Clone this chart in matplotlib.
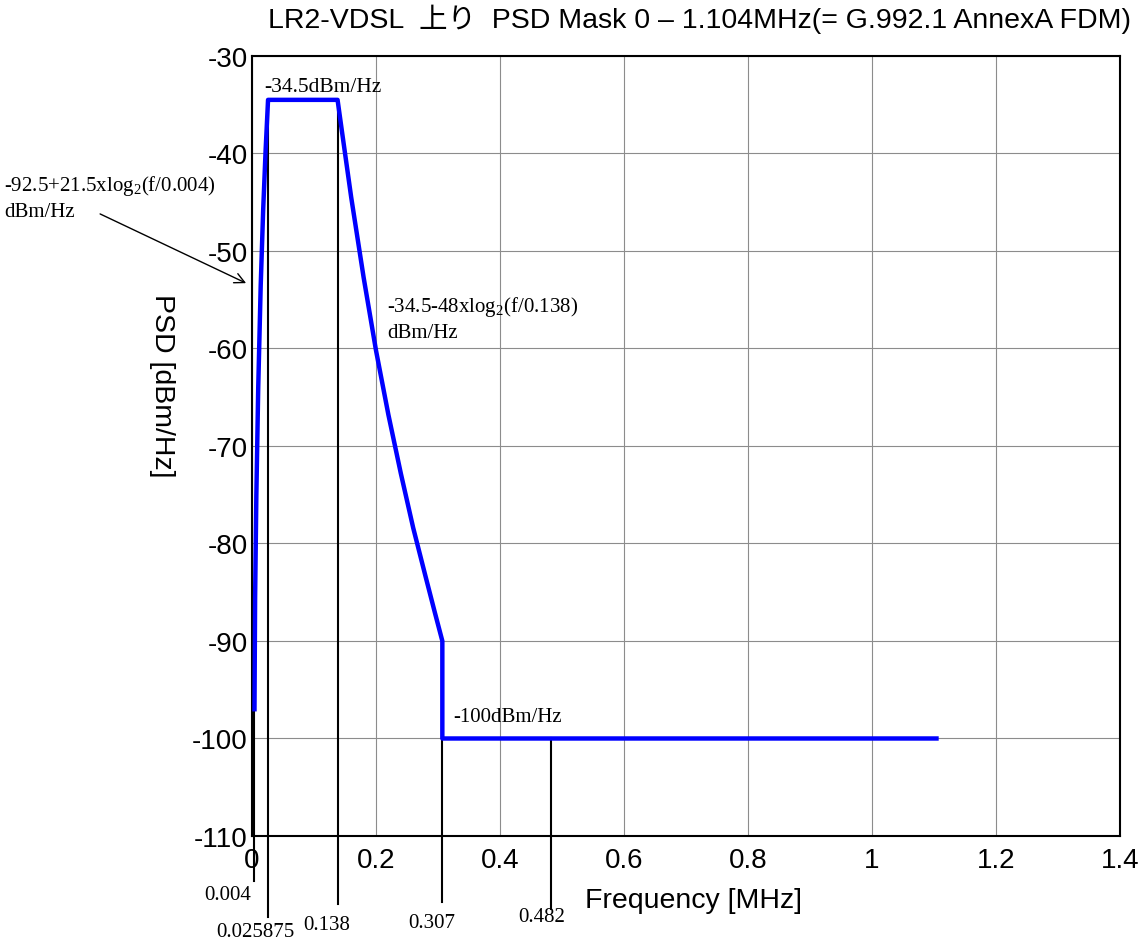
import matplotlib.pyplot as plt

plt.rcParams['font.family'] = ['Liberation Sans', 'Noto Sans CJK JP', 'DejaVu Sans']
plt.rcParams['mathtext.fontset'] = 'custom'
plt.rcParams['mathtext.rm'] = 'Liberation Serif'
plt.rcParams['axes.unicode_minus'] = False

# PSD mask (MHz, dBm/Hz)
rise_f = [0.004, 0.005, 0.007, 0.010, 0.014, 0.018, 0.022, 0.025875]
rise_psd = [-97.0, -85.6, -75.1, -64.1, -53.6, -45.8, -39.6, -34.5]
flat_f = [0.025875, 0.138]
flat_psd = [-34.5, -34.5]
fall_f = [0.138, 0.145, 0.16, 0.18, 0.20, 0.22, 0.24, 0.26, 0.28, 0.295, 0.307]
fall_psd = [-34.5, -37.7, -44.5, -52.7, -60.2, -66.8, -72.8, -78.4, -83.4, -87.1, -90.0]
tail_f = [0.307, 0.307, 1.104]
tail_psd = [-90.0, -100.0, -100.0]

# marker frequencies with their label text and vertical line ranges
mark_f = [0.004, 0.025875, 0.138, 0.307, 0.482]
mark_top = [-97.0, -34.5, -34.5, -100.0, -100.0]
mark_bot = [-114.6, -118.3, -117.0, -116.8, -117.5]
mark_lbl = ['0.004', '0.025875', '0.138', '0.307', '0.482']
# label centres in data units (x MHz, y dB)
lbl_x = [-0.04, 0.006, 0.121, 0.29, 0.467]
lbl_y = [-116.0, -119.8, -119.1, -118.9, -118.3]

serif = 'Liberation Serif'

fig = plt.figure(figsize=(11.46, 9.45), dpi=100)
ax = fig.add_axes([0.2199, 0.1143, 0.7574, 0.8254])

f_all = rise_f + flat_f[1:] + fall_f[1:] + tail_f[1:]
p_all = rise_psd + flat_psd[1:] + fall_psd[1:] + tail_psd[1:]

for f, top, bot in zip(mark_f, mark_top, mark_bot):
    ax.plot([f, f], [top, bot], color='black', lw=1.5, clip_on=False, zorder=3)

ax.plot(f_all, p_all, color='#0000ff', lw=3.2, zorder=4)

ax.set_xlim(0, 1.4)
ax.set_ylim(-110, -30)
ax.set_xticks([0, 0.2, 0.4, 0.6, 0.8, 1.0, 1.2, 1.4])
ax.set_xticklabels(['0', '0.2', '0.4', '0.6', '0.8', '1', '1.2', '1.4'])
ax.set_yticks(range(-110, -29, 10))
ax.tick_params(labelsize=20, length=0)
ax.tick_params(axis='x', pad=8)
ax.tick_params(axis='y', pad=3)
ax.grid(True, color='#8c8c8c', lw=0.8)
for s in ax.spines.values():
    s.set_linewidth(1.5)

ax.set_xlabel('Frequency [MHz]', fontsize=20.5, labelpad=10)
ax.xaxis.label.set_x(0.509)
fig.text(0.141, 0.592, 'PSD [dBm/Hz]', rotation=-90, fontsize=20.5,
         ha='center', va='center')
ax.set_title('LR2-VDSL  上り  PSD Mask 0 – 1.104MHz(= G.992.1 AnnexA FDM)',
             fontsize=20.5, pad=21, x=0.515)

for x, y, t in zip(lbl_x, lbl_y, mark_lbl):
    ax.text(x, y, t, fontsize=15, family=serif, ha='center', va='center',
            clip_on=False)

ax.text(0.02, -33.6, '-34.5dBm/Hz', fontsize=15.5, family=serif)
ax.text(0.218, -58.8, '-34.5-48xlog$_{\\mathregular{2}}$(f/0.138)\ndBm/Hz',
        fontsize=15, family=serif, linespacing=1.35)
ax.text(0.325, -98.2, '-100dBm/Hz', fontsize=15, family=serif)
ax.text(-0.4, -46.4, '-92.5+21.5xlog$_{\\mathregular{2}}$(f/0.004)\ndBm/Hz',
        fontsize=15, family=serif, linespacing=1.35, clip_on=False)
ax.annotate('', xy=(-0.0095, -53.3), xytext=(-0.245, -46.2),
            annotation_clip=False,
            arrowprops=dict(arrowstyle='->', color='black', lw=1,
                            shrinkA=0, shrinkB=0, mutation_scale=18))

fig.savefig('out.png', dpi=100)
